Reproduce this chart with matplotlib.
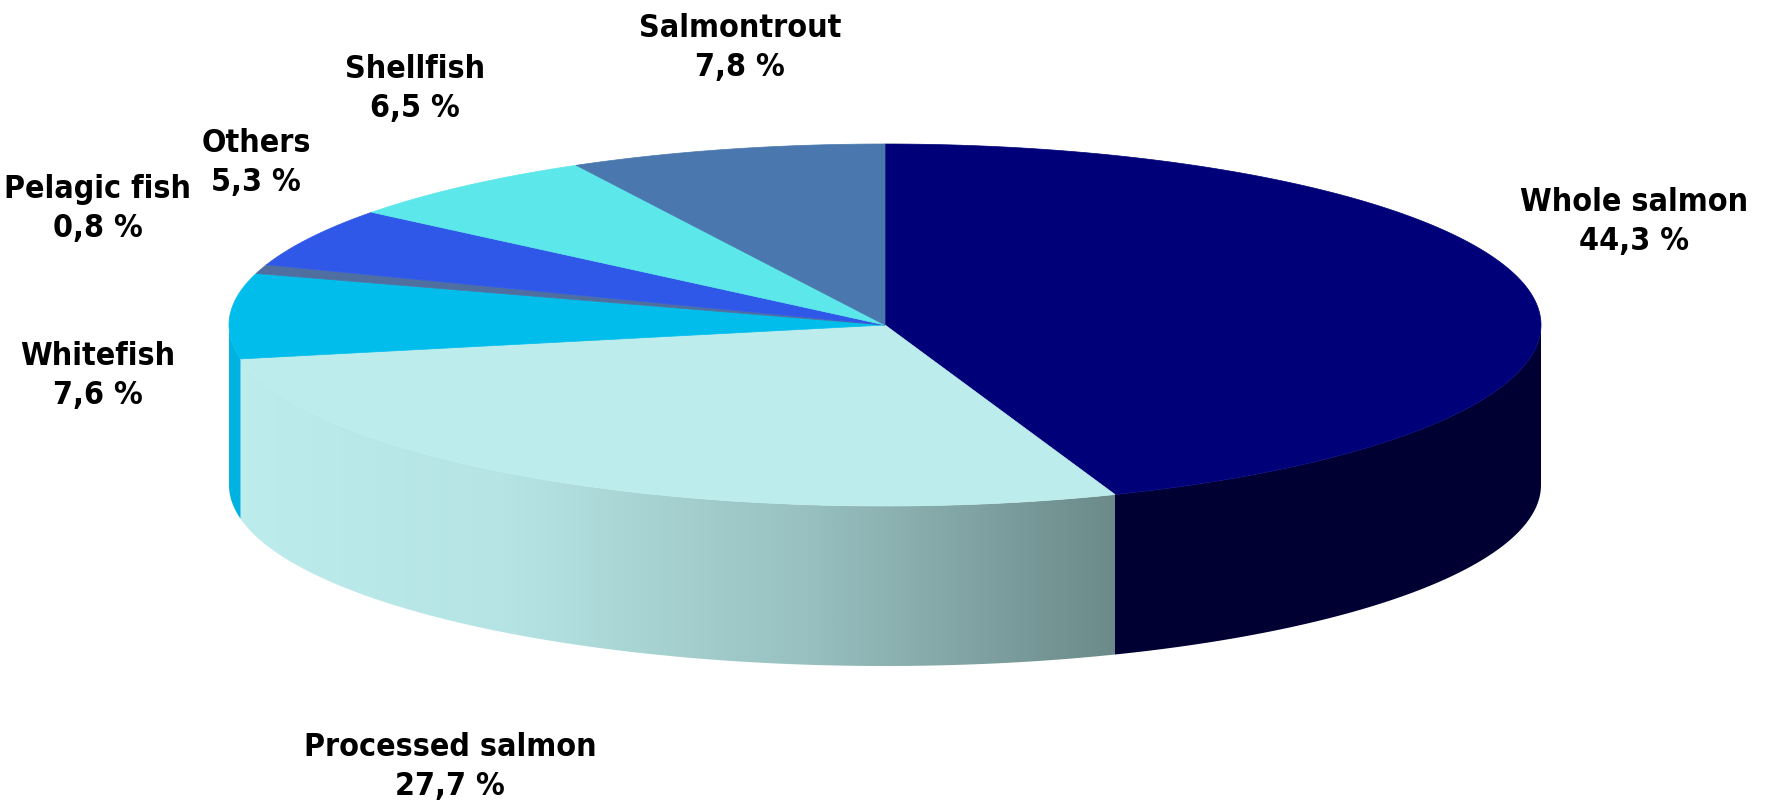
import numpy as np
import matplotlib.pyplot as plt
from matplotlib.patches import Polygon
from matplotlib.colors import LinearSegmentedColormap

# Data: slices go clockwise from 12 o'clock
labels = ["Whole salmon", "Processed salmon", "Whitefish", "Pelagic fish",
          "Others", "Shellfish", "Salmontrout"]
shares = [44.3, 27.7, 7.6, 0.8, 5.3, 6.5, 7.8]
top_colors = ["#000078", "#BDECEC", "#00BDEB", "#4F6FA0",
              "#3058E8", "#5CE8EA", "#4A78AE"]
side_colors = ["#000033", "#BDECEC", "#00B2E0", "#4A6890",
               "#2A4FD0", "#52D0D2", "#41699A"]

# label positions (pixels, figure coordinates with y going down)
label_pos = [(1634, 222), (450, 767), (98, 376), (98, 209),
             (256, 163), (415, 89), (740, 48)]

# pie geometry in pixels
cx, cy = 885, 325
a, b = 656, 181
depth = 160

W, H = 1771, 807
fig = plt.figure(figsize=(W / 100, H / 100), dpi=100)
ax = fig.add_axes([0, 0, 1, 1])
ax.set_xlim(0, W)
ax.set_ylim(H, 0)
ax.axis("off")


def ell(theta, dy=0.0):
    # theta in degrees, clockwise from 12 o'clock
    t = np.radians(theta)
    return cx + a * np.sin(t), cy - b * np.cos(t) + dy


bounds = np.concatenate([[0], np.cumsum(shares)]) / sum(shares) * 360

# side walls (front half only: 90..270 degrees)
for i in range(len(shares)):
    t1 = max(bounds[i], 90)
    t2 = min(bounds[i + 1], 270)
    if t2 <= t1:
        continue
    t = np.linspace(t1, t2, 200)
    xt, yt = ell(t)
    xb, yb = ell(t[::-1], depth)
    pts = np.column_stack([np.concatenate([xt, xb]), np.concatenate([yt, yb])])
    if labels[i] == "Processed salmon":
        # shaded wall: light on the left, darker towards the right
        poly = Polygon(pts, closed=True, facecolor="none", edgecolor="none")
        ax.add_patch(poly)
        cmap = LinearSegmentedColormap.from_list(
            "side", [(0, "#BDECEC"), (0.3, "#B6E4E4"), (0.65, "#98C0C0"), (1, "#6C8A8A")])
        grad = np.linspace(0, 1, 256).reshape(1, -1)
        x0, x1 = pts[:, 0].min(), pts[:, 0].max()
        y0, y1 = pts[:, 1].min(), pts[:, 1].max()
        im = ax.imshow(grad, cmap=cmap, extent=[x0, x1, y1, y0], aspect="auto",
                       interpolation="bilinear")
        im.set_clip_path(poly)
    else:
        ax.add_patch(Polygon(pts, closed=True, facecolor=side_colors[i],
                             edgecolor="none"))

# top faces
for i in range(len(shares)):
    t = np.linspace(bounds[i], bounds[i + 1], 300)
    xt, yt = ell(t)
    pts = np.column_stack([np.concatenate([[cx], xt]), np.concatenate([[cy], yt])])
    ax.add_patch(Polygon(pts, closed=True, facecolor=top_colors[i],
                         edgecolor=top_colors[i], linewidth=0.5))

# labels
for lab, val, (x, y) in zip(labels, shares, label_pos):
    txt = f"{lab}\n{val:.1f} %".replace(".", ",")
    ax.text(x, y, txt, ha="center", va="center", fontsize=23, fontweight="bold",
            family=["Liberation Sans Narrow", "DejaVu Sans"], fontstretch="condensed",
            linespacing=1.35, color="black")

fig.savefig("out.png", dpi=100, facecolor="white")
